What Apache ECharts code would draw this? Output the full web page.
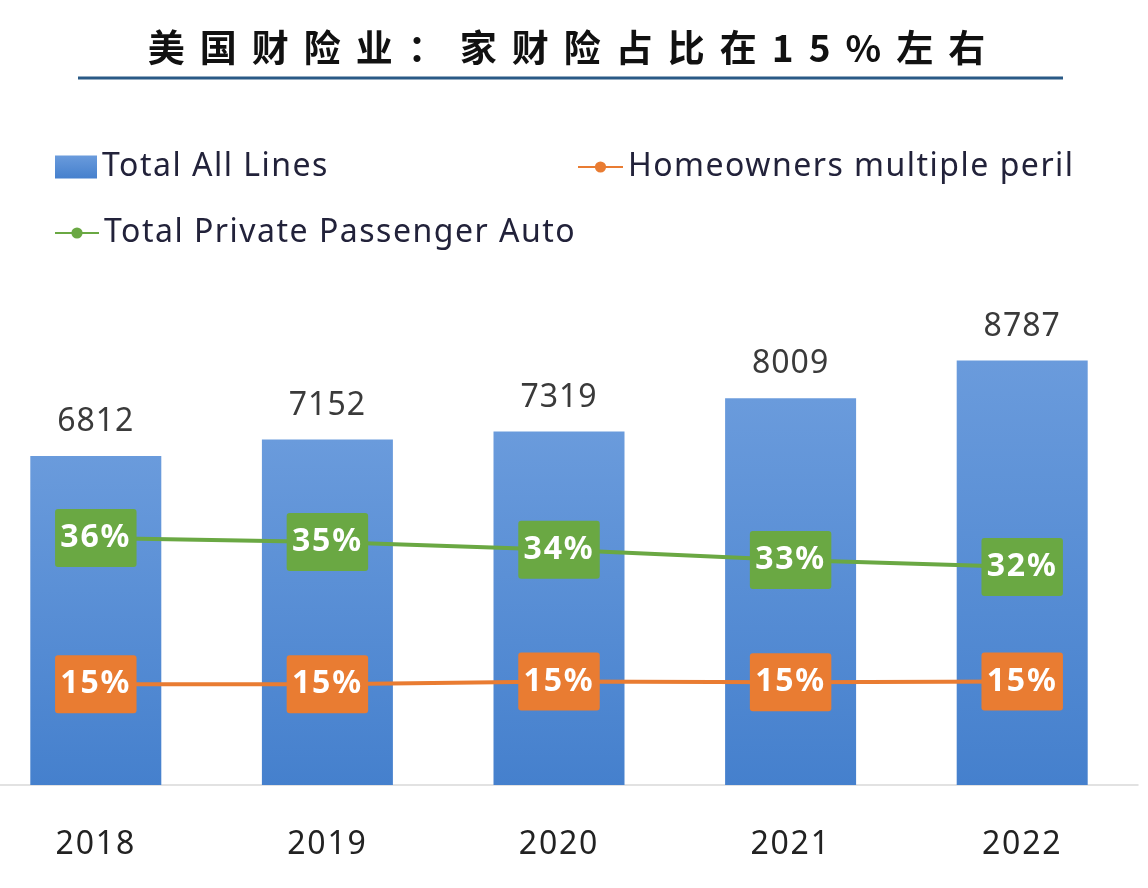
<!DOCTYPE html>
<html>
<head>
<meta charset="utf-8">
<script src="https://cdn.jsdelivr.net/npm/echarts@6/dist/echarts.min.js"></script>
<style>html,body{margin:0;padding:0;background:#fff;overflow:hidden}#c{width:1148px;height:888px}</style>
</head>
<body>
<div id="c"></div>
<script>
const TITLE = '美国财险业：家财险占比在15%左右';
const years = ['2018', '2019', '2020', '2021', '2022'];
const totalAllLines = [6812, 7152, 7319, 8009, 8787];
const homeownersShare = [14.6, 14.6, 15.0, 14.9, 15.0];
const autoShare = [35.8, 35.2, 34.1, 32.6, 31.6];
const seriesNames = ['Total All Lines', 'Homeowners multiple peril', 'Total Private Passenger Auto'];

// extra letter spacing for some texts (the reference is slightly stretched)
const spacing = {};
spacing[TITLE] = 15;
seriesNames.forEach(n => spacing[n] = 1.5);
years.forEach(y => spacing[y] = 1.8);
totalAllLines.forEach(v => spacing[String(v)] = 1);

const origFill = CanvasRenderingContext2D.prototype.fillText;
CanvasRenderingContext2D.prototype.fillText = function (t, x, y, w) {
  if (spacing[t] !== undefined && 'letterSpacing' in this) {
    const prev = this.letterSpacing;
    const f = this.font;
    this.letterSpacing = spacing[t] + 'px';
    this.font = '10px sans-serif';
    this.font = f;
    const r = origFill.call(this, t, x, y);
    this.letterSpacing = prev;
    this.font = '10px sans-serif';
    this.font = f;
    return r;
  }
  return w === undefined ? origFill.call(this, t, x, y) : origFill.call(this, t, x, y, w);
};

const chart = echarts.init(document.getElementById('c'), null, { renderer: 'canvas' });
const latin = '"Noto Sans", "Open Sans", sans-serif';
const legendText = { fontSize: 32, color: '#22223a', fontFamily: latin };
const pctLabel = (bg) => ({
  show: true,
  position: 'inside',
  formatter: (p) => Math.round(p.value) + '%',
  color: '#fff',
  fontSize: 32,
  fontWeight: 'bold',
  fontFamily: latin,
  backgroundColor: bg,
  padding: [14, 8, 12, 8],
  borderRadius: 3
});

chart.setOption({
  animation: false,
  backgroundColor: '#fff',
  graphic: [
    { type: 'text', x: 574, y: 48, z: 10, style: { text: TITLE, fill: '#111', font: 'bold 37px "Noto Sans CJK SC", sans-serif', textAlign: 'center', textVerticalAlign: 'middle' } },
    { type: 'line', shape: { x1: 78, y1: 78, x2: 1063, y2: 78 }, style: { stroke: '#2a5a86', lineWidth: 3 } }
  ],
  legend: [
    { data: [seriesNames[0]], left: 55, top: 151, padding: 0, itemWidth: 42, itemHeight: 23, textStyle: legendText, icon: 'rect' },
    { data: [seriesNames[1]], left: 577, top: 151, padding: 0, itemWidth: 45, itemHeight: 14, textStyle: legendText },
    { data: [seriesNames[2]], left: 54, top: 217, padding: 0, itemWidth: 44, itemHeight: 14, textStyle: legendText }
  ],
  grid: { left: -20, right: 10, top: 302, bottom: 103, containLabel: false, outerBoundsMode: 'none' },
  xAxis: {
    type: 'category',
    data: years,
    axisLine: { lineStyle: { color: '#d9d9d9', width: 1.5 } },
    axisTick: { show: false },
    axisLabel: { fontSize: 32, color: '#222', margin: 44, fontFamily: latin }
  },
  yAxis: [
    { type: 'value', min: 0, max: 10000, show: false, splitLine: { show: false } },
    { type: 'value', min: 0, max: 70, show: false, splitLine: { show: false } }
  ],
  series: [
    {
      name: seriesNames[0], type: 'bar', data: totalAllLines, barWidth: 131,
      itemStyle: { color: new echarts.graphic.LinearGradient(0, 0, 0, 1, [{ offset: 0, color: '#6a9bdc' }, { offset: 1, color: '#4580cd' }]) },
      label: { show: true, position: 'top', distance: 18, fontSize: 32, color: '#3a3a3a', fontFamily: latin }
    },
    {
      name: seriesNames[1], type: 'line', yAxisIndex: 1, data: homeownersShare,
      lineStyle: { color: '#e97c32', width: 4 }, itemStyle: { color: '#e97c32' },
      symbol: 'circle', symbolSize: 8, label: pctLabel('#e97c32'), z: 3
    },
    {
      name: seriesNames[2], type: 'line', yAxisIndex: 1, data: autoShare,
      lineStyle: { color: '#6aa843', width: 4 }, itemStyle: { color: '#6aa843' },
      symbol: 'circle', symbolSize: 8, label: pctLabel('#6aa843'), z: 3
    }
  ]
});
</script>
</body>
</html>
